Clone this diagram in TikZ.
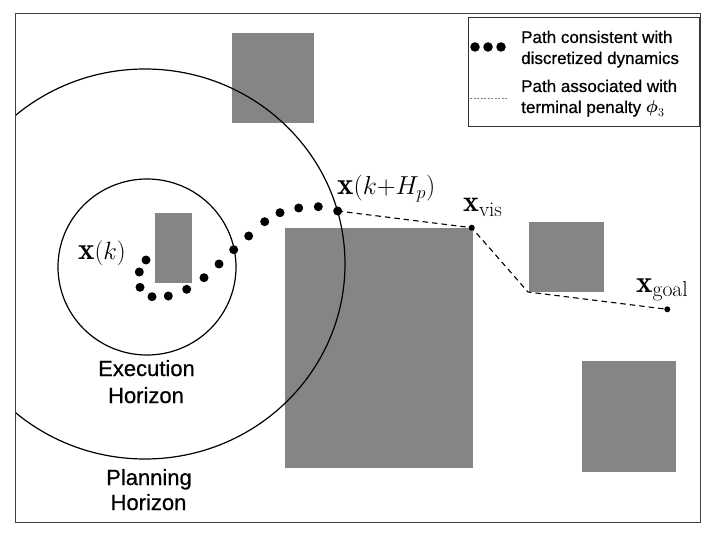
\RequirePackage{fix-cm}
\documentclass[tikz,border=0pt]{standalone}
\usepackage{amsmath}
\usepackage{graphicx}
\usepackage{fontspec}
\newfontfamily\arialf[FakeBold=0.6]{Liberation Sans}
\definecolor{obst}{RGB}{133,133,133}
\newcommand{\bigx}[1]{{\fontsize{#1}{#1}\selectfont$\mathbf{x}$}}
\begin{document}
\begin{tikzpicture}[x=1pt,y=-1pt,
  obstacle/.style={fill=obst,draw=none},
  horizon/.style={draw=black,line width=1.2pt},
  dotnode/.style={circle,fill=black,inner sep=0pt,minimum size=9pt},
  smalldot/.style={circle,fill=black,inner sep=0pt,minimum size=6pt},
  legdot/.style={circle,fill=black,inner sep=0pt,minimum size=9.5pt},
  dashline/.style={draw=black,line width=1.1pt,dash pattern=on 5.5pt off 4pt},
  lbl/.style={font=\arialf\fontsize{22}{27}\selectfont,inner sep=0pt,anchor=base},
  legtxt/.style={font=\arialf\fontsize{17}{21}\selectfont,anchor=base west,inner sep=0pt},
  mathlbl/.style={anchor=base west,inner sep=0pt}]
\useasboundingbox (0,0) rectangle (709,537);
\fill[white] (0,0) rectangle (709,537);
% obstacles
\fill[obstacle] (232,33) rectangle (314,123);
\fill[obstacle] (155,213) rectangle (192,283);
\fill[obstacle] (285,228) rectangle (473,468);
\fill[obstacle] (529,222) rectangle (604,292);
\fill[obstacle] (582,361) rectangle (676,472);
% horizons
\begin{scope}
\clip (15,14) rectangle (700,522);
\draw[horizon] (145,264) ellipse [x radius=200pt, y radius=195pt];
\end{scope}
\draw[horizon] (147,267) ellipse [x radius=89pt, y radius=88pt];
% frame
\draw[line width=1pt,draw=black!75] (15,14) rectangle (700,522);
% dots
\node[dotnode] (d1) at (146,260) {};
\node[dotnode] (d2) at (139.3,272) {};
\node[dotnode] (d3) at (140,287.3) {};
\node[dotnode] (d4) at (152,296.7) {};
\node[dotnode] (d5) at (168.3,296) {};
\node[dotnode] (d6) at (186.7,289.3) {};
\node[dotnode] (d7) at (204,277.7) {};
\node[dotnode] (d8) at (219,264) {};
\node[dotnode] (d9) at (233.7,249.7) {};
\node[dotnode] (d10) at (248.7,236) {};
\node[dotnode] (d11) at (264.7,221.7) {};
\node[dotnode] (d12) at (280,212.7) {};
\node[dotnode] (d13) at (298.7,208) {};
\node[dotnode] (d14) at (318.3,206.7) {};
\node[dotnode] (d15) at (337.7,211) {};
% terminal path
\node[smalldot] (vis) at (471.7,227.7) {};
\coordinate (bend) at (528,292);
\node[smalldot] (goal) at (667.3,309.3) {};
\draw[dashline] (d15.center) -- (vis.center) -- (bend) -- (goal.center);
% math labels
\node[mathlbl] (xk) at (78,260) {\bigx{31}{\fontsize{25}{25}\selectfont$(k)$}};
\node[mathlbl] (xkh) at (337,195) {\bigx{31}{\fontsize{26}{26}\selectfont$(k{+}H_p)$}};
\node[mathlbl] (xvis) at (463,212) {\fontsize{30}{30}\selectfont$\mathbf{x}_{\mathrm{vis}}$};
\node[mathlbl] (xgoal) at (636,292) {\fontsize{31}{31}\selectfont$\mathbf{x}_{\mathrm{goal}}$};
% horizon labels
\node[lbl] (exe1) at (146.5,376) {Execution};
\node[lbl] (exe2) at (146,403) {Horizon};
\node[lbl] (pl1) at (149,485) {Planning};
\node[lbl] (pl2) at (148.5,510) {Horizon};
% legend
\draw[line width=1pt,draw=black!80] (468,18) rectangle (699,127);
\node[legdot] (l1) at (475,47) {};
\node[legdot] (l2) at (488,47) {};
\node[legdot] (l3) at (501,47) {};
\coordinate (la) at (470,98);
\coordinate (lb) at (508,98);
\draw[draw=gray,line width=0.8pt,dash pattern=on 2pt off 1.5pt] (la) -- (lb);
\node[legtxt] (t1) at (521,43) {Path consistent with};
\node[legtxt] (t2) at (521,64) {discretized dynamics};
\node[legtxt] (t3) at (521,92) {Path associated with};
\node[legtxt] (t4) at (521,113) {terminal penalty $\boldsymbol{\phi}_3$};
\end{tikzpicture}
\end{document}
